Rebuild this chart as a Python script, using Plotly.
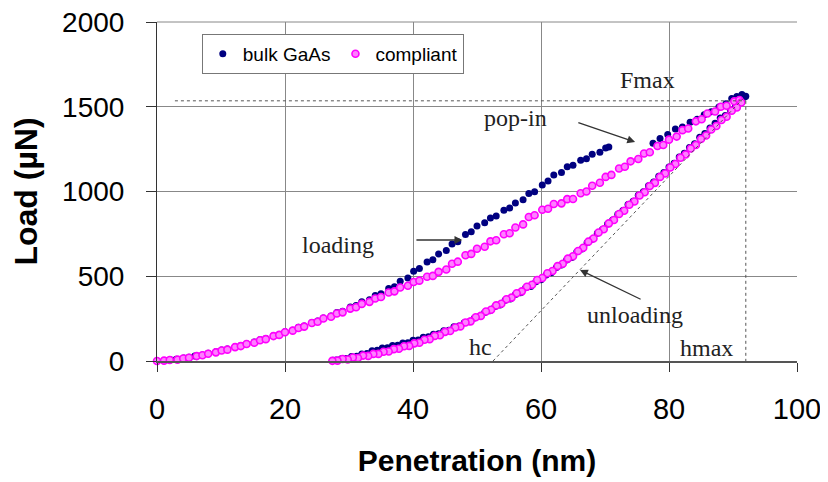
import plotly.graph_objects as go

# ---------------- data ----------------
# bulk GaAs, loading branch (nm, µN)
bulk_load_x = [0.0, 1.2, 2.1, 3.0, 4.2, 5.0, 5.9, 7.1, 8.0, 9.2, 10.1, 11.0, 12.2, 13.1, 14.0, 15.2,
               16.1, 17.0, 18.2, 19.1, 20.0, 21.2, 22.1, 23.0, 24.2, 25.1, 26.0, 27.2, 28.1, 29.0,
               30.2, 31.1, 32.0, 33.2, 34.1, 35.0, 36.2, 37.1, 38.0, 39.2, 40.1, 41.0, 42.2, 43.1,
               44.0, 45.2, 46.1, 47.0, 48.2, 49.1, 50.0, 51.2, 52.1, 53.0, 54.2, 55.1, 56.0, 57.2,
               58.1, 59.0, 60.2, 61.1, 62.0, 63.2, 64.1, 65.0, 66.2, 67.1, 68.0, 69.2, 70.1, 70.6,
               77.5, 78.6, 79.8, 81.0, 82.1, 83.3, 84.4, 85.5, 86.6, 87.8, 88.9, 89.8, 90.6, 91.4, 92.0]
bulk_load_y = [0, 3, 7, 10, 17, 22, 30, 36, 46, 54, 65, 71, 84, 91, 102, 112,
               125, 133, 149, 156, 172, 181, 199, 206, 227, 236, 254, 265, 286, 294,
               318, 328, 350, 362, 386, 397, 428, 438, 470, 490, 530, 546, 584, 598,
               632, 652, 690, 704, 746, 762, 796, 815, 844, 856, 890, 902, 932, 952,
               988, 998, 1038, 1062, 1098, 1112, 1146, 1155, 1184, 1193, 1220, 1232, 1256, 1262,
               1285, 1312, 1336, 1368, 1380, 1408, 1426, 1453, 1470, 1499, 1518, 1548, 1560, 1572, 1562]

# bulk GaAs, unloading branch
bulk_unload_x = [91.8, 91.1, 90.4, 89.6, 88.8, 88.0, 87.2, 86.4, 85.6, 84.8, 84.0, 83.2, 82.4, 81.6,
                 80.8, 80.0, 79.2, 78.4, 77.6, 76.8, 76.0, 75.2, 74.4, 73.6, 72.8, 72.0, 71.2, 70.4,
                 69.6, 68.8, 68.0, 67.2, 66.4, 65.6, 64.8, 64.0, 63.2, 62.4, 61.6, 60.8, 60.0, 59.2,
                 58.4, 57.6, 56.8, 56.0, 55.2, 54.4, 53.6, 52.8, 52.0, 51.2, 50.4, 49.6, 48.8, 48.0,
                 47.2, 46.4, 45.6, 44.8, 44.0, 43.2, 42.4, 41.6, 40.8, 40.0, 39.2, 38.4, 37.6, 36.8,
                 36.0, 35.2, 34.4, 33.6, 32.8, 32.0, 31.2, 30.4, 29.6, 28.8, 28.0, 27.5]
bulk_unload_y = [1558, 1532, 1503, 1480, 1448, 1434, 1402, 1375, 1342, 1320, 1282, 1260, 1225, 1203,
                 1166, 1145, 1112, 1090, 1056, 1034, 998, 978, 942, 923, 888, 866, 832, 808,
                 776, 754, 718, 698, 661, 644, 610, 596, 566, 552, 520, 508, 480, 468,
                 440, 432, 403, 393, 366, 358, 330, 322, 296, 286, 262, 253, 232, 226,
                 206, 202, 182, 178, 161, 158, 143, 140, 124, 122, 108, 106, 93, 92,
                 78, 76, 63, 60, 44, 42, 28, 26, 15, 14, 6, 5]

# compliant, loading branch
comp_load_x = [0.0, 1.1, 2.0, 3.2, 4.1, 5.0, 6.2, 7.1, 8.0, 9.2, 10.1, 11.0, 12.2, 13.1, 14.0, 15.2,
               16.1, 17.0, 18.2, 19.1, 20.0, 21.2, 22.1, 23.0, 24.2, 25.1, 26.0, 27.2, 28.1, 29.0,
               30.2, 31.1, 32.0, 33.2, 34.1, 35.0, 36.2, 37.1, 38.0, 39.2, 40.1, 41.0, 42.2, 43.1,
               44.0, 45.2, 46.1, 47.0, 48.2, 49.1, 50.0, 51.2, 52.1, 53.0, 54.2, 55.1, 56.0, 57.2,
               58.1, 59.0, 60.2, 61.1, 62.0, 63.2, 64.1, 65.0, 66.2, 67.1, 68.0, 69.2, 70.1, 71.0,
               72.2, 73.1, 74.0, 75.2, 76.1, 77.0, 78.2, 79.1, 80.0, 81.2, 82.1, 83.0, 84.2, 85.1,
               86.0, 87.2, 88.1, 89.0, 90.2, 91.0]
comp_load_y = [0, 2, 6, 8, 15, 19, 29, 34, 43, 51, 62, 67, 82, 88, 100, 108,
               122, 129, 147, 154, 170, 179, 195, 203, 224, 232, 251, 261, 280, 287,
               309, 317, 337, 349, 369, 378, 404, 411, 434, 444, 466, 474, 497, 502,
               526, 540, 574, 586, 624, 632, 662, 674, 706, 712, 748, 754, 788, 806,
               850, 860, 892, 898, 926, 930, 955, 956, 990, 1000, 1034, 1052, 1086, 1098,
               1136, 1146, 1178, 1192, 1224, 1232, 1268, 1274, 1306, 1324, 1362, 1372, 1414, 1426,
               1460, 1472, 1500, 1506, 1532, 1540]

# compliant, unloading branch
comp_unload_x = [91.3, 90.6, 89.8, 89.0, 88.2, 87.4, 86.6, 85.8, 85.0, 84.2, 83.4, 82.6, 81.8, 81.0,
                 80.2, 79.4, 78.6, 77.8, 77.0, 76.2, 75.4, 74.6, 73.8, 73.0, 72.2, 71.4, 70.6, 69.8,
                 69.0, 68.2, 67.4, 66.6, 65.8, 65.0, 64.2, 63.4, 62.6, 61.8, 61.0, 60.2, 59.4, 58.6,
                 57.8, 57.0, 56.2, 55.4, 54.6, 53.8, 53.0, 52.2, 51.4, 50.6, 49.8, 49.0, 48.2, 47.4,
                 46.6, 45.8, 45.0, 44.2, 43.4, 42.6, 41.8, 41.0, 40.2, 39.4, 38.6, 37.8, 37.0, 36.2,
                 35.4, 34.6, 33.8, 33.0, 32.2, 31.4, 30.6, 29.8, 29.0, 28.2, 27.4]
comp_unload_y = [1525, 1496, 1476, 1441, 1422, 1386, 1366, 1330, 1310, 1274, 1254, 1218, 1199, 1162,
                 1142, 1106, 1086, 1051, 1032, 996, 976, 941, 922, 886, 867, 832, 812, 777,
                 758, 723, 704, 668, 649, 618, 604, 574, 560, 531, 518, 490, 478, 450,
                 438, 411, 400, 374, 364, 338, 328, 302, 292, 266, 258, 234, 227, 204,
                 198, 177, 172, 152, 148, 129, 125, 108, 104, 89, 87, 72, 70, 56,
                 55, 42, 42, 30, 32, 18, 21, 9, 12, 2, 1]

series_names = ["bulk GaAs", "compliant"]
x_ticks = [0, 20, 40, 60, 80, 100]
y_ticks = [0, 500, 1000, 1500, 2000]

NAVY = "#000080"
MAGENTA = "#ff00ff"
SERIF = "Liberation Serif, Times New Roman, serif"
SANS = "Liberation Sans, Arial, sans-serif"

fig = go.Figure()
fig.add_trace(go.Scatter(
    x=bulk_load_x + bulk_unload_x, y=bulk_load_y + bulk_unload_y,
    mode="markers", name=series_names[0], cliponaxis=False,
    marker=dict(symbol="circle", size=7, color=NAVY, line=dict(width=0))))
fig.add_trace(go.Scatter(
    x=comp_load_x + comp_unload_x, y=comp_load_y + comp_unload_y,
    mode="markers", name=series_names[1], cliponaxis=False,
    marker=dict(symbol="circle", size=7, color="#ff80ff", line=dict(width=1.6, color=MAGENTA))))

# top border of the plot area (grid line at the upper range limit)
fig.add_shape(type="line", xref="paper", yref="paper", x0=0, y0=1, x1=1, y1=1,
              line=dict(color="#888888", width=1), layer="below")

dotted = dict(color="#555555", width=1, dash="dot")
fig.add_shape(type="line", xref="x", yref="y", x0=2.8, y0=1535, x1=92, y1=1535, line=dotted)
fig.add_shape(type="line", xref="x", yref="y", x0=92, y0=1535, x1=92, y1=0, line=dotted)
fig.add_shape(type="line", xref="x", yref="y", x0=52.5, y0=0, x1=91.5, y1=1545, line=dotted)

def label(text, x, y):
    fig.add_annotation(x=x, y=y, xref="x", yref="y", text=text, showarrow=False,
                       font=dict(family=SERIF, size=24, color="#222222"))

def arrow(x_head, y_head, x_tail, y_tail):
    fig.add_annotation(x=x_head, y=y_head, ax=x_tail, ay=y_tail, xref="x", yref="y",
                       axref="x", ayref="y", text="", showarrow=True, arrowhead=2,
                       arrowsize=1.2, arrowwidth=1.3, arrowcolor="#333333")

label("Fmax", 76.7, 1658)
label("pop-in", 56.0, 1434)
label("loading", 28.3, 684)
label("unloading", 74.7, 271)
label("hc", 50.5, 83)
label("hmax", 85.9, 77)
arrow(47.7, 714, 40.3, 714)
arrow(74.7, 1292, 65.6, 1410)
arrow(66.1, 537, 75.8, 360)

# the page body adds an 8 px offset, so margins are set 8 px smaller at left/top
fig.update_layout(
    width=828, height=482,
    margin=dict(l=149, r=39, t=14, b=129),
    paper_bgcolor="white", plot_bgcolor="white",
    font=dict(family=SANS, color="black"),
    showlegend=True,
    legend=dict(x=0.07, y=0.965, xanchor="left", yanchor="top", orientation="h",
                bgcolor="white", bordercolor="#777777", borderwidth=1,
                font=dict(family=SANS, size=19, color="black"), itemwidth=30,
                tracegroupgap=0),
)
fig.update_xaxes(
    range=[0, 100], tickvals=x_ticks, ticks="outside", ticklen=9, tickcolor="#333333",
    showline=True, linecolor="#555555", linewidth=2, automargin=False,
    showgrid=True, gridcolor="#888888", gridwidth=1, zeroline=False,
    tickfont=dict(family=SANS, size=29), ticklabelstandoff=12, ticklabeloverflow="allow",
    title=dict(text="<b>Penetration (nm)</b>", font=dict(family=SANS, size=30),
               standoff=26))
fig.update_yaxes(
    range=[0, 2000], tickvals=y_ticks, ticks="outside", ticklen=10, tickcolor="#333333",
    showline=True, linecolor="#333333", linewidth=1, automargin=False,
    showgrid=True, gridcolor="#888888", gridwidth=1, zeroline=False,
    tickfont=dict(family=SANS, size=28), ticklabelstandoff=16, ticklabeloverflow="allow",
    title=dict(text="<b>Load (µN)</b>", font=dict(family=SANS, size=32),
               standoff=18))

fig.write_html("out.html")
